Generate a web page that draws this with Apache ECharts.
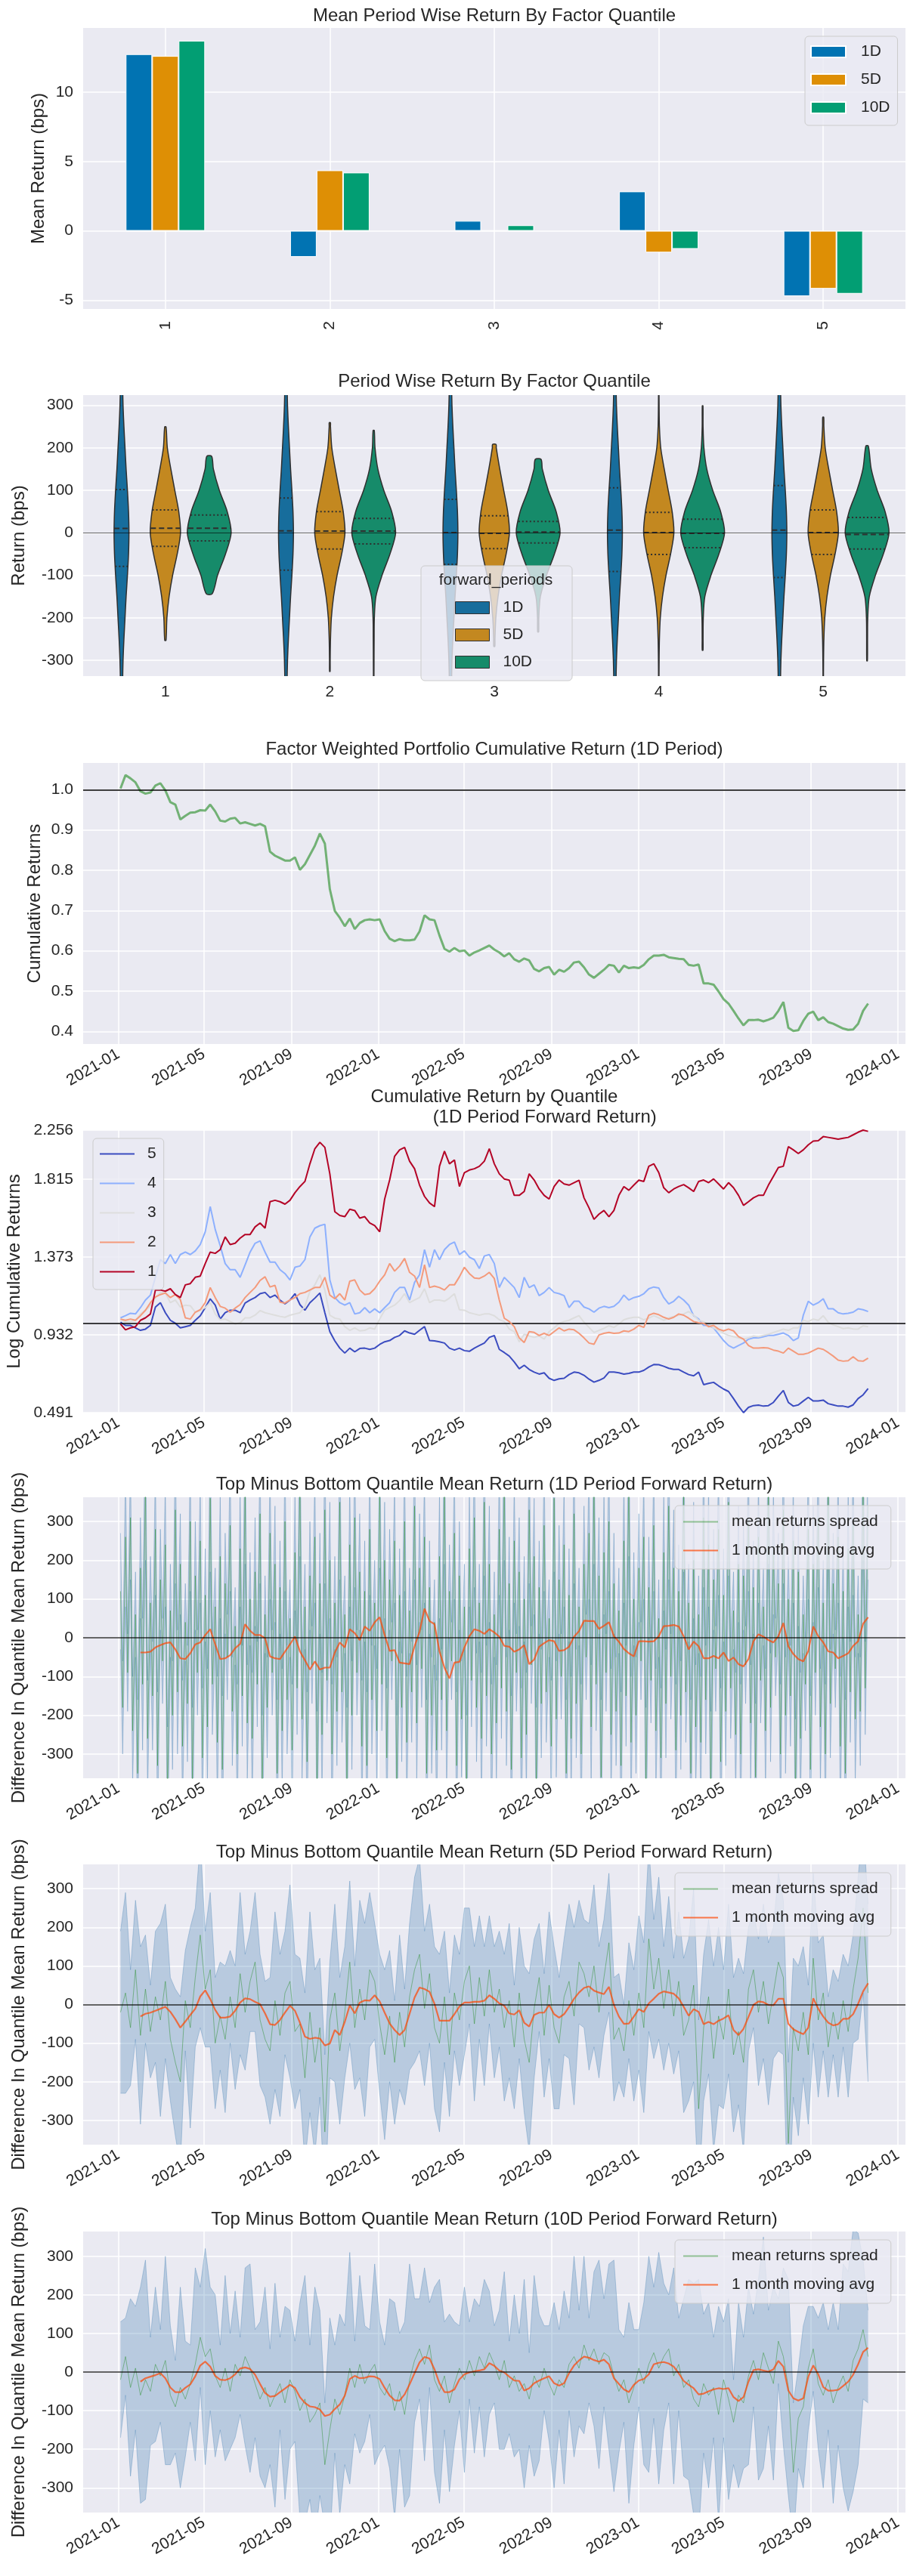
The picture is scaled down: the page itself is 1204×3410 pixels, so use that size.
<!DOCTYPE html>
<html>
<head>
<meta charset="utf-8">
<title>Factor quantile tear sheet</title>
<script src="https://cdn.jsdelivr.net/npm/echarts@6.0.0/dist/echarts.min.js"></script>
<style>
  html, body { margin: 0; padding: 0; background: #ffffff; }
  #chart { width: 1204px; height: 3410px; }
</style>
</head>
<body>
<div id="chart"></div>
<script>
// ---------- data ----------
const quantiles = ['1', '2', '3', '4', '5'];
const periods = ['1D', '5D', '10D'];

// mean period wise return by factor quantile (bps)
const meanRet1D = [12.73, -1.88, 0.72, 2.84, -4.71];
const meanRet5D = [12.6, 4.36, 0.03, -1.56, -4.17];
const meanRet10D = [13.7, 4.2, 0.4, -1.3, -4.53];

// violin summaries per quantile (bps): extent, quartiles, median
const violinMin1D = [-420, -420, -420, -420, -420];
const violinMax1D = [420, 420, 420, 420, 420];
const violinQ1_1D = [-79, -88, -74, -91, -105];
const violinMed1D = [10.6, 4.7, 0.6, 6.5, 6.5];
const violinQ3_1D = [102, 82, 79, 106, 111];

const violinMin5D = [-253, -326, -267, -400, -360];
const violinMax5D = [249, 259, 208, 400, 272];
const violinQ1_5D = [-32, -38, -37, -51, -51];
const violinMed5D = [11, 4, -1, 0.6, 0.6];
const violinQ3_5D = [54, 50, 40, 48, 54];

const violinMin10D = [-143, -380, -233, -276, -301];
const violinMax10D = [180, 241, 173, 299, 204];
const violinQ1_10D = [-19, -26, -24, -35, -38];
const violinMed10D = [11, 4, 2, -1, -4];
const violinQ3_10D = [42, 34, 27, 32, 36];

// relative density of the violins at these return levels (1 = widest violin)
const violinLevels = [-400, -350, -300, -250, -200, -150, -100, -50, 0, 50, 100, 150, 200, 250, 300, 350, 400];
const density1D = [0.03, 0.05, 0.07, 0.11, 0.16, 0.21, 0.27, 0.32, 0.34, 0.32, 0.27, 0.21, 0.16, 0.11, 0.07, 0.05, 0.03];
const density5D = [0.008, 0.01, 0.015, 0.03, 0.07, 0.17, 0.33, 0.54, 0.69, 0.61, 0.43, 0.25, 0.09, 0.03, 0.015, 0.01, 0.008];
const density10D = [0.01, 0.012, 0.015, 0.02, 0.03, 0.1, 0.38, 0.74, 1.0, 0.82, 0.46, 0.19, 0.06, 0.02, 0.015, 0.012, 0.01];

// weekly series, first point 2021-01-04
const factorCumReturns = [
  1.003, 1.036, 1.028, 1.018, 0.996, 0.990, 0.993, 1.010, 1.016, 0.998,
  0.969, 0.963, 0.926, 0.935, 0.943, 0.944, 0.949, 0.948, 0.963, 0.946,
  0.923, 0.921, 0.928, 0.930, 0.916, 0.919, 0.915, 0.911, 0.915, 0.909,
  0.846, 0.836, 0.830, 0.824, 0.824, 0.832, 0.801, 0.815, 0.838, 0.861,
  0.891, 0.866, 0.753, 0.699, 0.682, 0.661, 0.680, 0.654, 0.669, 0.676,
  0.678, 0.676, 0.678, 0.649, 0.630, 0.624, 0.629, 0.626, 0.626, 0.628,
  0.648, 0.688, 0.678, 0.676, 0.638, 0.605, 0.598, 0.607, 0.599, 0.601,
  0.588, 0.596, 0.601, 0.607, 0.613, 0.603, 0.596, 0.586, 0.594, 0.579,
  0.573, 0.581, 0.576, 0.555, 0.549, 0.557, 0.560, 0.541, 0.553, 0.548,
  0.557, 0.571, 0.573, 0.559, 0.541, 0.533, 0.543, 0.553, 0.565, 0.563,
  0.546, 0.563, 0.557, 0.559, 0.557, 0.565, 0.579, 0.588, 0.588, 0.590,
  0.584, 0.582, 0.580, 0.579, 0.565, 0.563, 0.566, 0.519, 0.519, 0.516,
  0.499, 0.480, 0.469, 0.451, 0.432, 0.415, 0.428, 0.428, 0.429, 0.425,
  0.429, 0.434, 0.451, 0.473, 0.409, 0.401, 0.403, 0.426, 0.444, 0.449,
  0.428, 0.435, 0.423, 0.419, 0.413, 0.407, 0.404, 0.405, 0.419, 0.451,
  0.469
];

const cumQ1 = [
  0.994, 0.961, 0.972, 0.979, 1.015, 1.029, 1.051, 1.187, 1.187, 1.180,
  1.194, 1.161, 1.144, 1.216, 1.223, 1.259, 1.266, 1.337, 1.402, 1.395,
  1.416, 1.488, 1.445, 1.452, 1.481, 1.502, 1.502, 1.545, 1.567, 1.538,
  1.688, 1.696, 1.688, 1.674, 1.696, 1.739, 1.774, 1.803, 1.903, 1.989,
  2.065, 1.996, 1.846, 1.631, 1.610, 1.603, 1.645, 1.638, 1.595, 1.603,
  1.567, 1.552, 1.517, 1.703, 1.811, 1.946, 1.982, 1.996, 1.918, 1.875,
  1.782, 1.718, 1.681, 1.660, 1.889, 1.975, 1.903, 1.925, 1.774, 1.853,
  1.868, 1.875, 1.889, 1.918, 1.989, 1.903, 1.846, 1.817, 1.810, 1.724,
  1.724, 1.746, 1.846, 1.811, 1.760, 1.724, 1.703, 1.774, 1.811, 1.789,
  1.782, 1.796, 1.810, 1.710, 1.653, 1.588, 1.617, 1.638, 1.603, 1.638,
  1.724, 1.774, 1.753, 1.782, 1.810, 1.803, 1.889, 1.903, 1.853, 1.767,
  1.739, 1.760, 1.774, 1.785, 1.767, 1.746, 1.803, 1.811, 1.796, 1.817,
  1.789, 1.760, 1.796, 1.767, 1.724, 1.667, 1.688, 1.710, 1.724, 1.724,
  1.782, 1.832, 1.882, 1.889, 2.000, 1.982, 1.961, 1.982, 2.028, 2.083,
  2.090, 2.152, 2.140, 2.128, 2.113, 2.128, 2.140, 2.180, 2.222, 2.256,
  2.236
];
const cumQ2 = [
  1.022, 1.015, 1.022, 1.015, 1.041, 1.072, 1.115, 1.147, 1.161, 1.170,
  1.144, 1.161, 1.133, 1.029, 1.022, 1.061, 1.075, 1.115, 1.201, 1.144,
  1.094, 1.084, 1.061, 1.084, 1.104, 1.144, 1.173, 1.201, 1.241, 1.262,
  1.204, 1.213, 1.118, 1.113, 1.130, 1.144, 1.166, 1.173, 1.187, 1.201,
  1.201, 1.259, 1.158, 1.137, 1.166, 1.130, 1.237, 1.244, 1.187, 1.161,
  1.166, 1.194, 1.237, 1.273, 1.337, 1.294, 1.323, 1.366, 1.287, 1.266,
  1.201, 1.330, 1.201, 1.209, 1.201, 1.187, 1.216, 1.216, 1.262, 1.316,
  1.280, 1.255, 1.252, 1.266, 1.287, 1.252, 1.130, 1.027, 1.008, 0.979,
  0.915, 0.889, 0.951, 0.946, 0.929, 0.941, 0.929, 0.951, 0.972, 0.955,
  0.965, 0.961, 0.941, 0.915, 0.886, 0.879, 0.932, 0.941, 0.946, 0.941,
  0.943, 0.955, 0.951, 0.965, 0.986, 0.975, 1.044, 1.055, 1.047, 1.032,
  1.022, 1.032, 1.051, 1.044, 1.027, 1.008, 1.001, 0.998, 0.979, 0.986,
  0.965, 0.955, 0.965, 0.955, 0.922, 0.908, 0.872, 0.857, 0.857, 0.860,
  0.857, 0.846, 0.840, 0.829, 0.857, 0.840, 0.822, 0.822, 0.829, 0.843,
  0.857, 0.850, 0.832, 0.812, 0.789, 0.783, 0.786, 0.808, 0.786, 0.783,
  0.800
];
const cumQ3 = [
  1.022, 1.004, 1.008, 1.015, 1.051, 1.072, 1.098, 1.144, 1.173, 1.170,
  1.115, 1.130, 1.090, 1.101, 1.098, 1.061, 1.072, 1.087, 1.115, 1.051,
  1.018, 1.022, 1.008, 0.994, 1.001, 1.029, 1.029, 1.044, 1.070, 1.058,
  1.051, 1.044, 1.037, 1.032, 1.044, 1.051, 1.058, 1.094, 1.180, 1.216,
  1.273, 1.187, 1.044, 1.027, 1.022, 0.979, 0.958, 0.972, 0.955, 0.958,
  0.972, 0.965, 1.022, 1.072, 1.087, 1.101, 1.127, 1.166, 1.115, 1.130,
  1.144, 1.194, 1.115, 1.130, 1.130, 1.123, 1.141, 1.166, 1.075, 1.072,
  1.058, 1.051, 1.044, 1.051, 1.051, 1.041, 1.018, 1.008, 0.965, 0.951,
  0.893, 0.936, 0.926, 0.918, 0.926, 0.908, 0.951, 0.972, 0.998, 1.008,
  1.015, 1.029, 1.041, 1.004, 0.975, 0.946, 0.958, 0.969, 0.984, 0.975,
  0.994, 1.018, 1.027, 1.032, 1.032, 1.018, 1.027, 1.041, 1.029, 1.015,
  1.029, 1.037, 1.044, 1.051, 1.065, 1.044, 1.015, 1.007, 0.994, 0.972,
  0.958, 0.943, 0.929, 0.922, 0.915, 0.908, 0.915, 0.926, 0.922, 0.929,
  0.936, 0.946, 0.955, 0.965, 0.958, 0.972, 0.972, 1.015, 1.008, 1.022,
  1.015, 1.041, 1.004, 0.989, 0.979, 0.968, 0.972, 0.966, 0.965, 0.984,
  0.979
];
const cumQ4 = [
  1.029, 1.041, 1.055, 1.051, 1.087, 1.130, 1.158, 1.259, 1.359, 1.337,
  1.388, 1.337, 1.388, 1.402, 1.388, 1.409, 1.445, 1.517, 1.660, 1.531,
  1.438, 1.337, 1.302, 1.302, 1.259, 1.330, 1.402, 1.452, 1.466, 1.402,
  1.345, 1.345, 1.302, 1.280, 1.244, 1.316, 1.323, 1.359, 1.488, 1.538,
  1.552, 1.560, 1.244, 1.144, 1.115, 1.101, 1.115, 1.051, 1.058, 1.087,
  1.058, 1.080, 1.058, 1.087, 1.115, 1.173, 1.201, 1.201, 1.130, 1.230,
  1.273, 1.416, 1.316, 1.416, 1.359, 1.416, 1.445, 1.459, 1.388, 1.409,
  1.373, 1.359, 1.309, 1.380, 1.388, 1.337, 1.201, 1.259, 1.230, 1.201,
  1.144, 1.259, 1.201, 1.216, 1.155, 1.173, 1.201, 1.173, 1.166, 1.155,
  1.087, 1.123, 1.123, 1.090, 1.080, 1.061, 1.084, 1.094, 1.087, 1.094,
  1.118, 1.158, 1.130, 1.144, 1.151, 1.166, 1.194, 1.204, 1.198, 1.144,
  1.108, 1.123, 1.151, 1.130, 1.101, 1.041, 1.022, 0.986, 0.986, 0.972,
  0.936, 0.900, 0.872, 0.857, 0.872, 0.886, 0.908, 0.915, 0.915, 0.922,
  0.929, 0.929, 0.936, 0.943, 0.929, 0.900, 0.915, 1.044, 1.123, 1.101,
  1.115, 1.137, 1.080, 1.080, 1.058, 1.051, 1.055, 1.061, 1.080, 1.075,
  1.065
];
const cumQ5 = [
  1.004, 0.986, 0.986, 0.972, 0.958, 0.965, 0.986, 1.090, 1.115, 1.058,
  1.015, 0.998, 0.972, 0.979, 0.986, 1.015, 1.041, 1.087, 1.137, 1.101,
  1.022, 1.058, 1.072, 1.072, 1.058, 1.113, 1.130, 1.144, 1.166, 1.173,
  1.144, 1.158, 1.130, 1.108, 1.130, 1.166, 1.104, 1.072, 1.115, 1.141,
  1.170, 1.058, 0.951, 0.898, 0.857, 0.829, 0.857, 0.836, 0.855, 0.857,
  0.850, 0.857, 0.878, 0.893, 0.900, 0.918, 0.929, 0.955, 0.943, 0.936,
  0.958, 0.979, 0.900, 0.898, 0.893, 0.886, 0.857, 0.846, 0.857, 0.843,
  0.839, 0.857, 0.872, 0.886, 0.918, 0.929, 0.850, 0.832, 0.812, 0.779,
  0.740, 0.760, 0.736, 0.721, 0.710, 0.717, 0.686, 0.674, 0.683, 0.686,
  0.707, 0.721, 0.717, 0.703, 0.681, 0.664, 0.674, 0.688, 0.721, 0.721,
  0.717, 0.710, 0.714, 0.721, 0.721, 0.731, 0.750, 0.764, 0.763, 0.754,
  0.743, 0.736, 0.736, 0.721, 0.707, 0.700, 0.721, 0.650, 0.657, 0.663,
  0.643, 0.625, 0.611, 0.571, 0.528, 0.491, 0.521, 0.531, 0.534, 0.528,
  0.531, 0.549, 0.585, 0.617, 0.549, 0.528, 0.535, 0.557, 0.578, 0.557,
  0.557, 0.562, 0.542, 0.535, 0.528, 0.528, 0.522, 0.535, 0.571, 0.592,
  0.628
];
const cumTicks = [0.491, 0.932, 1.373, 1.815, 2.256];

// 1 month moving average of the top minus bottom spread (bps), weekly
const movingAvg1D = [
  null, null, null, null, -38, -38, -36, -25, -19, -14,
  -12, -30, -53, -55, -40, -17, -12, 7, 22, -17,
  -55, -53, -45, -27, -16, 35, 18, 7, 7, -1,
  -48, -53, -55, -36, -17, 3, -35, -58, -82, -61,
  -82, -77, -77, -38, -12, -25, 22, 12, -6, 29,
  18, 40, 53, 7, -34, -32, -64, -66, -68, -22,
  16, 75, 43, 35, -35, -77, -105, -64, -62, -25,
  4, 22, 18, 10, 22, 14, 3, -21, -23, -36,
  -30, -19, -68, -56, -23, -14, -6, -9, -34, -32,
  -23, 3, 17, 44, 43, 43, 23, 31, 40, 4,
  -10, -29, -40, -48, -9, -9, -10, -9, 4, 30,
  31, 33, 29, 4, -30, -10, -22, -53, -53, -47,
  -53, -38, -60, -51, -68, -74, -55, -9, 9, 3,
  -6, -12, 4, 38, -22, -42, -55, -61, -34, 29,
  4, -12, -35, -38, -53, -47, -40, -21, -9, 36,
  53
];
const movingAvg5D = [
  null, null, null, null, -31, -24, -21, -16, -11, -6,
  -19, -38, -60, -44, -27, -11, 21, 37, 14, -14,
  -34, -34, -31, -16, 5, 16, 14, 7, 1, -23,
  -51, -53, -40, -21, -3, -16, -47, -83, -89, -86,
  -88, -106, -101, -66, -79, -45, -2, -23, 5, 11,
  10, 24, 8, -21, -49, -66, -79, -66, -24, 18,
  44, 40, 33, 2, -42, -42, -42, -25, -5, 5,
  5, 7, 7, 10, 24, 15, 3, -3, -23, -26,
  -15, -47, -57, -27, -21, -21, -1, -25, -34, -25,
  -6, 15, 31, 43, 47, 36, 31, 27, 46, -1,
  -31, -50, -49, -31, -12, -19, 3, 15, 28, 34,
  31, 28, 16, -6, -29, -12, -19, -51, -45, -51,
  -42, -36, -28, -66, -79, -63, -32, -1, 8, 6,
  -1, -2, 15, 15, -50, -64, -71, -77, -60, 16,
  -11, -31, -47, -54, -51, -37, -37, -25, 2, 34,
  55
];
const movingAvg10D = [
  null, null, null, null, -25, -16, -12, -8, -3, -16,
  -40, -52, -52, -41, -32, -11, 17, 27, 14, -10,
  -20, -21, -16, -6, 9, 12, 8, -7, -31, -54,
  -64, -62, -52, -43, -33, -41, -65, -80, -89, -91,
  -97, -114, -110, -96, -84, -61, -18, -10, -16, -15,
  -11, -12, -18, -41, -61, -73, -74, -58, -32, -3,
  25, 39, 35, 7, -29, -52, -52, -45, -19, -6,
  -1, 2, 4, 7, 23, 16, 4, -1, -12, -22,
  -23, -48, -42, -29, -22, -16, -11, -29, -35, -29,
  -3, 17, 30, 40, 37, 31, 27, 32, 20, -16,
  -31, -45, -52, -33, -22, -18, -6, 20, 24, 26,
  22, 14, -3, -23, -33, -42, -58, -56, -50, -45,
  -42, -44, -42, -65, -75, -65, -25, 5, 7, 4,
  1, 7, 29, 14, -48, -68, -74, -68, -12, 17,
  -6, -39, -48, -48, -46, -36, -25, -7, 20, 52,
  63
];

// top minus bottom spread and its standard error (bps)
// 1D: two points a week (Mon, Thu); 5D and 10D: weekly
const spread1D = [
  120, -180, 260, -90, 310, -240, 60, -350, 180, -120,
  400, -260, 90, -150, 280, -330, 150, -60, 240, -410,
  70, -200, 330, -140, 190, -280, 40, -170, 300, -380,
  160, -90, 250, -310, 110, -230, 360, -120, 80, -270,
  210, -340, 140, -50, 290, -190, 30, -300, 230, -150,
  380, -220, 100, -260, 170, -120, 320, -400, 60, -180,
  270, -90, 190, -350, 130, -240, 300, -160, 50, -290,
  220, -130, 410, -210, 80, -320, 160, -70, 260, -380,
  140, -250, 330, -110, 200, -300, 90, -190, 350, -140,
  60, -370, 240, -200, 310, -90, 170, -280, 120, -330,
  280, -160, 90, -240, 380, -120, 200, -310, 150, -60,
  250, -390, 110, -180, 300, -270, 70, -140, 340, -220,
  180, -80, 260, -350, 130, -200, 40, -290, 210, -160,
  390, -240, 120, -60, 270, -330, 160, -210, 80, -400,
  230, -110, 310, -180, 90, -260, 350, -150, 190, -300,
  60, -220, 280, -130, 400, -190, 140, -340, 250, -90,
  170, -310, 100, -250, 330, -70, 210, -380, 130, -170,
  290, -140, 50, -280, 360, -210, 150, -100, 240, -350,
  110, -260, 320, -170, 80, -300, 190, -50, 270, -230,
  380, -120, 160, -360, 220, -90, 300, -250, 140, -190,
  70, -330, 250, -150, 410, -270, 100, -200, 180, -60,
  260, -380, 130, -110, 290, -240, 50, -310, 220, -170,
  340, -100, 180, -290, 120, -200, 370, -140, 90, -350,
  200, -230, 60, -270, 310, -160, 240, -390, 150, -80,
  280, -320, 110, -190, 350, -130, 70, -250, 190, -300,
  160, -70, 300, -220, 130, -360, 260, -110, 80, -240,
  390, -180, 220, -50, 140, -300, 330, -200, 100, -150,
  250, -410, 170, -260, 60, -120, 280, -340, 190, -90,
  310, -230, 90, -300, 380, -170, 140, -80, 260, -280,
  120, -350, 230, -140, 290, -210, 60, -190, 400, -130,
  340
];
const stdErr1D = [
  150, 120, 180, 100, 160, 140, 110, 190, 130, 170,
  200, 150, 120, 140, 170, 190, 130, 110, 160, 180,
  120, 140, 190, 160, 130, 170, 100, 150, 180, 200,
  140, 110, 160, 180, 120, 150, 190, 130, 100, 170,
  160, 190, 130, 110, 170, 140, 100, 180, 150, 130,
  190, 150, 120, 170, 140, 110, 180, 200, 100, 130,
  170, 110, 150, 190, 120, 160, 180, 140, 100, 170,
  150, 120, 200, 160, 110, 180, 140, 100, 170, 190,
  130, 160, 190, 110, 150, 180, 120, 140, 200, 130,
  100, 190, 160, 140, 180, 110, 150, 170, 130, 190,
  170, 140, 110, 160, 200, 120, 150, 180, 130, 100,
  160, 190, 120, 140, 180, 170, 110, 130, 190, 150,
  140, 100, 170, 190, 120, 150, 110, 180, 160, 130,
  200, 160, 120, 100, 170, 190, 140, 150, 110, 200,
  150, 120, 180, 140, 100, 170, 190, 130, 150, 180,
  110, 150, 170, 130, 200, 140, 120, 190, 160, 100,
  140, 180, 110, 160, 190, 100, 150, 200, 120, 140,
  170, 130, 100, 170, 190, 150, 140, 110, 160, 190,
  120, 160, 180, 140, 100, 180, 150, 110, 170, 160,
  190, 120, 150, 200, 160, 100, 180, 170, 130, 140,
  110, 190, 160, 130, 200, 170, 120, 150, 140, 100,
  160, 200, 130, 110, 170, 160, 100, 180, 150, 140,
  190, 110, 150, 170, 120, 140, 200, 130, 100, 190,
  150, 160, 100, 170, 180, 140, 160, 200, 130, 110,
  170, 190, 120, 140, 190, 130, 100, 160, 150, 180,
  140, 100, 180, 150, 120, 190, 170, 110, 100, 160,
  200, 140, 160, 100, 130, 180, 190, 150, 110, 130,
  160, 200, 140, 170, 100, 120, 180, 190, 150, 110,
  180, 150, 110, 180, 200, 140, 130, 100, 170, 180,
  120, 190, 150, 130, 180, 160, 100, 140, 200, 120,
  190
];
const spread5D = [
  -20, 30, -60, 90, -80, 40, -70, 20, -40, 60,
  -90, -150, -200, 10, -60, 70, 180, 40, 90, -100,
  -30, -90, 20, -60, 80, -20, 60, 110, -40, -90,
  -120, 10, -80, 30, 60, -70, -50, -190, -20, -150,
  -60, -330, -40, 30, -120, -20, 110, -60, 40, -40,
  90, 60, -50, -130, -30, -150, -20, -110, 20, 90,
  130, -10, 80, -60, -100, 20, -130, 30, -40, 60,
  100, -50, 70, -30, 90, -20, 40, -60, 10, -110,
  30, -90, -150, -10, 70, -80, 50, -60, -100, 20,
  60, -30, 110, 80, 20, 100, -20, 70, 160, -90,
  -60, -120, 10, -80, 30, -60, 170, 40, 120, -10,
  90, -30, 60, -80, -40, 50, -270, -60, 20, -140,
  -30, -90, 40, -130, -70, -150, 40, 90, -20, 60,
  -50, 30, 110, 70, -360, -60, -120, -20, -130, 120,
  -40, 30, -110, -20, -90, 10, -70, 40, 120, 250,
  30
];
const stdErr5D = [
  210, 260, 150, 180, 230, 140, 120, 170, 250, 200,
  160, 190, 220, 130, 260, 180, 240, 150, 200, 170,
  140, 190, 120, 160, 210, 150, 130, 180, 170, 150,
  190, 230, 210, 160, 250, 200, 170, 220, 260, 240,
  180, 200, 150, 230, 190, 170, 210, 160, 230, 250,
  200, 150, 180, 220, 170, 160, 200, 150, 190, 240,
  250, 200, 180, 210, 230, 170, 160, 150, 170, 190,
  150, 200, 160, 180, 140, 170, 150, 190, 200, 160,
  170, 190, 230, 180, 140, 160, 190, 210, 170, 150,
  200, 230, 160, 140, 190, 210, 170, 150, 180, 160,
  140, 120, 150, 170, 200, 220, 240, 180, 210, 160,
  190, 150, 180, 200, 210, 250, 230, 190, 200, 240,
  230, 180, 220, 200, 190, 230, 160, 150, 190, 200,
  210, 170, 230, 200, 210, 180, 220, 170, 180, 220,
  200, 150, 130, 110, 150, 120, 170, 140, 210, 220,
  230
];
const spread10D = [
  -20, 40, -40, 10, -60, -20, -50, 20, -10, 30,
  -60, -90, -40, -70, -30, 20, 90, 40, 60, -10,
  -40, 10, -50, 20, -10, 40, 10, -30, -70, -40,
  -90, -60, -30, -80, -20, -50, -100, -70, -130, -110,
  -80, -240, -150, -70, -110, -60, 10, -40, 20, -30,
  0, 20, -40, -60, -30, -100, -50, -110, -20, 30,
  60, 20, 70, -20, -50, -10, -80, -30, 10, -20,
  30, -10, 40, 10, 50, 20, -20, 30, -40, -10,
  -50, -30, -70, -10, -40, 10, -30, -60, -20, -40,
  20, 40, 10, 70, 30, 60, 20, 50, 40, -10,
  -50, -20, -80, -40, 10, -30, 20, 50, 10, 40,
  60, -10, 20, -40, -20, -70, -90, -30, -60, -40,
  -110, -20, -70, -130, -60, -80, -10, 30, -20, 50,
  10, -30, 80, 40, -40, -260, -120, -90, 10, 60,
  -30, -60, -20, -80, -40, -10, -50, 30, 60, 110,
  40
];
const stdErr10D = [
  150, 100, 230, 160, 280, 310, 140, 200, 120, 270,
  180, 120, 260, 150, 100, 250, 130, 280, 160, 210,
  110, 240, 150, 190, 100, 230, 270, 140, 200, 260,
  150, 290, 120, 250, 180, 130, 280, 320, 200, 330,
  240, 160, 290, 140, 260, 180, 300, 120, 230, 150,
  110, 260, 170, 130, 220, 280, 150, 240, 300, 160,
  130, 250, 110, 240, 290, 140, 230, 160, 110, 240,
  100, 200, 130, 230, 160, 100, 180, 230, 120, 210,
  150, 270, 120, 260, 190, 110, 150, 240, 130, 250,
  120, 260, 150, 230, 110, 200, 270, 140, 240, 300,
  160, 110, 260, 150, 100, 210, 280, 170, 300, 190,
  140, 280, 120, 230, 260, 300, 330, 180, 240, 130,
  280, 150, 260, 110, 240, 170, 230, 120, 260, 300,
  150, 250, 110, 230, 280, 180, 130, 210, 160, 110,
  170, 240, 130, 260, 150, 290, 310, 340, 300, 180,
  120
];

const monthTickLabels = ['2021-01', '2021-05', '2021-09', '2022-01', '2022-05',
  '2022-09', '2023-01', '2023-05', '2023-09', '2024-01'];

// ---------- layout and style ----------
const FONT = "'Liberation Sans', Arial, Helvetica, sans-serif";
const TXT = '#262626';
const BG = '#eaeaf2';
const LEGEND_BG = 'rgba(234,234,242,0.8)';
const PLOT_LEFT = 110, PLOT_RIGHT = 6, CENTER_X = 654;
const plotTops = [37, 523, 1010, 1496, 1982, 2468, 2954];
const plotHeights = [372, 372, 372, 374, 372, 371, 372];
const titleCenters = [21, 505, 992, 1465.5, 1965, 2452, 2938];
const titles = [
  'Mean Period Wise Return By Factor Quantile',
  'Period Wise Return By Factor Quantile',
  'Factor Weighted Portfolio Cumulative Return (1D Period)',
  'Cumulative Return by Quantile\n                    (1D Period Forward Return)',
  'Top Minus Bottom Quantile Mean Return (1D Period Forward Return)',
  'Top Minus Bottom Quantile Mean Return (5D Period Forward Return)',
  'Top Minus Bottom Quantile Mean Return (10D Period Forward Return)'
];
const barColors = ['#0173b2', '#de8f05', '#029e73'];
const violinColors = ['#176d9c', '#c38820', '#168b6a'];
const quantileColors = { '5': '#3b4cc0', '4': '#8db0fe', '3': '#dddddd', '2': '#f49a7b', '1': '#b40426' };

const DAY = 86400000;
const START = Date.UTC(2021, 0, 4);
const X_MIN = Date.UTC(2020, 10, 12, 12);
const X_MAX = Date.UTC(2024, 0, 11, 12);
const weekDates = factorCumReturns.map((_, k) => START + k * 7 * DAY);
const halfWeekDates = spread1D.map((_, j) => START + (Math.floor(j / 2) * 7 + (j % 2) * 3) * DAY);
const monthTickValues = monthTickLabels.map(s => Date.UTC(+s.slice(0, 4), +s.slice(5, 7) - 1, 1));

// matplotlib 'symlog' scale (linthresh 2, linscale 1)
const LINTHRESH = 2, LINSCALE = 1 / (1 - 1 / 10);
const symlog = v => v <= LINTHRESH ? v * LINSCALE : LINTHRESH * (LINSCALE + Math.log10(v / LINTHRESH));

const pairs = (dates, vals, f) => vals.map((v, i) => [dates[i], v == null ? '-' : (f ? f(v) : v)]);
const fmtMonth = v => {
  const d = new Date(v);
  return d.getUTCFullYear() + '-' + String(d.getUTCMonth() + 1).padStart(2, '0');
};

function densAt(profile, v) {
  const L = violinLevels;
  if (v <= L[0]) return profile[0];
  if (v >= L[L.length - 1]) return profile[L.length - 1];
  for (let i = 1; i < L.length; i++) {
    if (v <= L[i]) {
      const t = (v - L[i - 1]) / (L[i] - L[i - 1]);
      return profile[i - 1] + (profile[i] - profile[i - 1]) * t;
    }
  }
  return 0;
}

function violinRenderer(pIdx, profile) {
  return function (params, api) {
    const qi = api.value(0);
    const lo = api.value(1), q1 = api.value(2), med = api.value(3), q3 = api.value(4), hi = api.value(5);
    const base = api.coord([qi, 0]);
    const slot = api.size([1, 0])[0] * 0.8 / 3;
    const cx = base[0] + (pIdx - 1) * slot;
    const half = v => densAt(profile, v) * slot / 2;
    const yOf = v => api.coord([qi, v])[1];
    const lv = [lo].concat(violinLevels.filter(l => l > lo + 5 && l < hi - 5), [hi]);
    const pts = lv.map(l => [cx + half(l), yOf(l)])
      .concat(lv.slice().reverse().map(l => [cx - half(l), yOf(l)]));
    const inner = [[q1, [2, 3]], [med, [7, 4]], [q3, [2, 3]]].map(([v, dash]) => ({
      type: 'line',
      shape: { x1: cx - half(v), y1: yOf(v), x2: cx + half(v), y2: yOf(v) },
      style: { stroke: '#2f2f2f', lineWidth: 2, lineDash: dash }
    }));
    return {
      type: 'group',
      children: [{
        type: 'polygon',
        shape: { points: pts, smooth: 0.3 },
        style: { fill: api.visual('color'), stroke: '#2f2f2f', lineWidth: 1.5 }
      }].concat(inner)
    };
  };
}

// spread +/- one standard error, filled between the two edges
function bandRenderer(dates, spread, stdErr) {
  return function (params, api) {
    const upper = dates.map((d, i) => api.coord([d, spread[i] + stdErr[i]]));
    const lower = dates.map((d, i) => api.coord([d, spread[i] - stdErr[i]]));
    const edge = { stroke: 'rgba(70,130,180,0.35)', lineWidth: 1, fill: 'none' };
    return {
      type: 'group',
      children: [
        { type: 'polygon', shape: { points: upper.concat(lower.slice().reverse()) },
          style: { fill: 'rgba(70,130,180,0.3)', stroke: 'none' } },
        { type: 'polyline', shape: { points: upper }, style: edge },
        { type: 'polyline', shape: { points: lower }, style: edge }
      ]
    };
  };
}

function valueY(gi, min, max, ticks, name, gap, fmt) {
  return {
    type: 'value', gridIndex: gi, min, max,
    axisLine: { show: false },
    axisTick: { show: false, customValues: ticks },
    axisLabel: { customValues: ticks, color: TXT, fontSize: 21, fontFamily: FONT, margin: 13, formatter: fmt },
    splitLine: { show: true, lineStyle: { color: '#ffffff', width: 1.5 } },
    name, nameLocation: 'middle', nameGap: gap, nameMoveOverlap: false,
    nameTextStyle: { color: TXT, fontSize: 24, fontFamily: FONT }
  };
}

// dates are kept as millisecond timestamps on a plain value axis
function dateX(gi) {
  return {
    type: 'value', gridIndex: gi, min: X_MIN, max: X_MAX,
    axisLine: { show: false },
    axisTick: { show: false, customValues: monthTickValues },
    axisLabel: { customValues: monthTickValues, rotate: 30, margin: 12, color: TXT, fontSize: 21,
      fontFamily: FONT, formatter: fmtMonth, hideOverlap: false },
    splitLine: { show: true, lineStyle: { color: '#ffffff', width: 1.5 } }
  };
}

function hLine(value, color, width) {
  return {
    silent: true, symbol: 'none', label: { show: false }, animation: false,
    lineStyle: { color, width, type: 'solid' },
    emphasis: { disabled: true },
    data: [{ yAxis: value }]
  };
}

function legendBox(left, top, padding, itemW, itemH, gap, data, textGap, extra) {
  return Object.assign({
    orient: 'vertical', left, top, padding, itemWidth: itemW, itemHeight: itemH, itemGap: gap, data,
    backgroundColor: LEGEND_BG, borderColor: '#cccccc', borderWidth: 1, borderRadius: 5,
    textStyle: { color: TXT, fontSize: 21, fontFamily: FONT, padding: [0, 0, 0, textGap] },
    selectedMode: false, z: 10
  }, extra || {});
}
// line legends: keep the line swatch, hide the marker ECharts adds on it
const lineLegend = { itemStyle: { opacity: 0 } };

function spreadSeries(axisIdx, dates, spread, stdErr, movingAvg) {
  return [
    { type: 'custom', xAxisIndex: axisIdx, yAxisIndex: axisIdx, clip: true, silent: true,
      renderItem: bandRenderer(dates, spread, stdErr),
      encode: { x: 0, y: 1 }, data: [[dates[0], spread[0]]], z: 1 },
    { type: 'line', name: 'mean returns spread', xAxisIndex: axisIdx, yAxisIndex: axisIdx,
      data: pairs(dates, spread), symbol: 'none', silent: true,
      color: 'rgba(34,139,34,0.45)', lineStyle: { color: 'rgba(34,139,34,0.45)', width: 1 }, z: 2 },
    { type: 'line', name: '1 month moving avg', xAxisIndex: axisIdx, yAxisIndex: axisIdx,
      data: pairs(weekDates, movingAvg), symbol: 'none', silent: true,
      color: 'rgba(255,69,0,0.7)', lineStyle: { color: 'rgba(255,69,0,0.7)', width: 2.2 }, z: 3,
      markLine: hLine(0, 'rgba(0,0,0,0.8)', 1.6) }
  ];
}

const violinMins = [violinMin1D, violinMin5D, violinMin10D];
const violinMaxs = [violinMax1D, violinMax5D, violinMax10D];
const violinQ1s = [violinQ1_1D, violinQ1_5D, violinQ1_10D];
const violinMeds = [violinMed1D, violinMed5D, violinMed10D];
const violinQ3s = [violinQ3_1D, violinQ3_5D, violinQ3_10D];
const violinDens = [density1D, density5D, density10D];
const meanRets = [meanRet1D, meanRet5D, meanRet10D];
const cumByQuantile = { '5': cumQ5, '4': cumQ4, '3': cumQ3, '2': cumQ2, '1': cumQ1 };

// ---------- option ----------
const option = {
  animation: false,
  backgroundColor: '#ffffff',
  textStyle: { fontFamily: FONT },
  title: titles.map((t, i) => ({
    text: t, left: CENTER_X, top: titleCenters[i], textAlign: 'center', textVerticalAlign: 'middle',
    padding: 0,
    textStyle: { fontSize: 24, fontWeight: 'normal', color: TXT, fontFamily: FONT, lineHeight: 27 }
  })),
  grid: plotTops.map((t, i) => ({
    left: PLOT_LEFT, right: PLOT_RIGHT, top: t, height: plotHeights[i],
    show: true, backgroundColor: BG, borderWidth: 0, containLabel: false, outerBoundsMode: 'none'
  })),
  xAxis: [
    { type: 'category', gridIndex: 0, data: quantiles,
      axisLine: { show: false }, axisTick: { show: false }, splitLine: { show: false },
      axisLabel: { rotate: 90, margin: 16, color: TXT, fontSize: 21, fontFamily: FONT } },
    { type: 'category', gridIndex: 1, data: quantiles,
      axisLine: { show: false }, axisTick: { show: false }, splitLine: { show: false },
      axisLabel: { margin: 11, color: TXT, fontSize: 21, fontFamily: FONT } },
    dateX(2), dateX(3), dateX(4), dateX(5), dateX(6),
    // vertical grid lines at the quantile centres of the first panel
    { type: 'value', gridIndex: 0, min: -0.5, max: 4.5, position: 'top',
      axisLine: { show: false }, axisLabel: { show: false },
      axisTick: { show: false, customValues: [0, 1, 2, 3, 4] },
      splitLine: { show: true, lineStyle: { color: '#ffffff', width: 1.5 } } }
  ],
  yAxis: [
    valueY(0, -5.63, 14.62, [-5, 0, 5, 10], 'Mean Return (bps)', 47, v => String(v)),
    valueY(1, -337, 324, [-300, -200, -100, 0, 100, 200, 300], 'Return (bps)', 73, v => String(v)),
    valueY(2, 0.3687, 1.0662, [0.4, 0.5, 0.6, 0.7, 0.8, 0.9, 1.0], 'Cumulative Returns', 52, v => v.toFixed(1)),
    valueY(3, symlog(cumTicks[0]), symlog(cumTicks[4]), cumTicks.map(symlog), 'Log Cumulative Returns', 79,
      v => {
        let best = 0;
        cumTicks.forEach((t, i) => { if (Math.abs(symlog(t) - v) < Math.abs(symlog(cumTicks[best]) - v)) best = i; });
        return cumTicks[best].toFixed(3);
      }),
    valueY(4, -362.5, 362.5, [-300, -200, -100, 0, 100, 200, 300], 'Difference In Quantile Mean Return (bps)', 73, v => String(v)),
    valueY(5, -363, 363, [-300, -200, -100, 0, 100, 200, 300], 'Difference In Quantile Mean Return (bps)', 73, v => String(v)),
    valueY(6, -364, 364, [-300, -200, -100, 0, 100, 200, 300], 'Difference In Quantile Mean Return (bps)', 73, v => String(v))
  ],
  legend: [
    legendBox(1065, 48, [10, 10, 13, 7], 46, 15, 16, periods, 15, { icon: 'rect' }),
    legendBox(557, 749, [45, 53, 14, 45], 45, 16, 15, periods.map(p => 'v' + p), 13, {
      icon: 'rect', formatter: n => n.slice(1),
      itemStyle: { borderColor: '#2f2f2f', borderWidth: 1 }
    }),
    legendBox(123, 1507, [10, 10, 13, 8], 46, 14, 18, ['5', '4', '3', '2', '1'], 12, lineLegend),
    legendBox(893, plotTops[4] + 11, [11, 17, 14, 10], 46, 14, 17, ['mean returns spread', '1 month moving avg'], 13, lineLegend),
    legendBox(893, plotTops[5] + 11, [11, 17, 14, 10], 46, 14, 17, ['mean returns spread', '1 month moving avg'], 13, lineLegend),
    legendBox(893, plotTops[6] + 11, [11, 17, 14, 10], 46, 14, 17, ['mean returns spread', '1 month moving avg'], 13, lineLegend)
  ],
  graphic: [{
    type: 'text', x: 656, y: 768, z: 100, silent: true,
    style: { text: 'forward_periods', fill: TXT, font: "21px 'Liberation Sans', Arial, sans-serif",
      align: 'center', verticalAlign: 'middle' }
  }],
  series: []
};

// panel 1: bars
periods.forEach((p, i) => {
  option.series.push({
    type: 'bar', name: p, xAxisIndex: 0, yAxisIndex: 0, data: meanRets[i],
    barWidth: 35, barGap: '0%', silent: true,
    itemStyle: { color: barColors[i], borderColor: '#ffffff', borderWidth: 1 }, z: 3
  });
});

// panel 2: violins
periods.forEach((p, i) => {
  option.series.push({
    type: 'custom', name: 'v' + p, xAxisIndex: 1, yAxisIndex: 1, clip: true, silent: true,
    renderItem: violinRenderer(i, violinDens[i]),
    itemStyle: { color: violinColors[i], borderColor: '#2f2f2f', borderWidth: 1 },
    encode: { x: 0, y: [1, 2, 3, 4, 5] },
    data: quantiles.map((q, k) => [k, violinMins[i][k], violinQ1s[i][k], violinMeds[i][k], violinQ3s[i][k], violinMaxs[i][k]]),
    z: 2
  });
});
option.series.push({
  type: 'line', xAxisIndex: 1, yAxisIndex: 1, data: [], silent: true, z: 5,
  markLine: hLine(0, 'rgba(0,0,0,0.6)', 1.2)
});

// panel 3: factor weighted cumulative return
option.series.push({
  type: 'line', xAxisIndex: 2, yAxisIndex: 2, data: pairs(weekDates, factorCumReturns),
  symbol: 'none', silent: true,
  lineStyle: { color: 'rgba(34,139,34,0.6)', width: 3 }, z: 2,
  markLine: hLine(1.0, '#000000', 1.6)
});

// panel 4: cumulative return by quantile
['5', '4', '3', '2', '1'].forEach((q, i) => {
  const s = {
    type: 'line', name: q, xAxisIndex: 3, yAxisIndex: 3,
    data: pairs(weekDates, cumByQuantile[q], symlog),
    symbol: 'none', silent: true, color: quantileColors[q],
    lineStyle: { color: quantileColors[q], width: 2 }, z: 2 + i
  };
  if (q === '1') s.markLine = hLine(symlog(1.0), '#000000', 1.6);
  option.series.push(s);
});

// panels 5-7: top minus bottom spread
option.series.push(...spreadSeries(4, halfWeekDates, spread1D, stdErr1D, movingAvg1D));
option.series.push(...spreadSeries(5, weekDates, spread5D, stdErr5D, movingAvg5D));
option.series.push(...spreadSeries(6, weekDates, spread10D, stdErr10D, movingAvg10D));

const chart = echarts.init(document.getElementById('chart'), null, { renderer: 'canvas', width: 1204, height: 3410 });
chart.setOption(option);
</script>
</body>
</html>
